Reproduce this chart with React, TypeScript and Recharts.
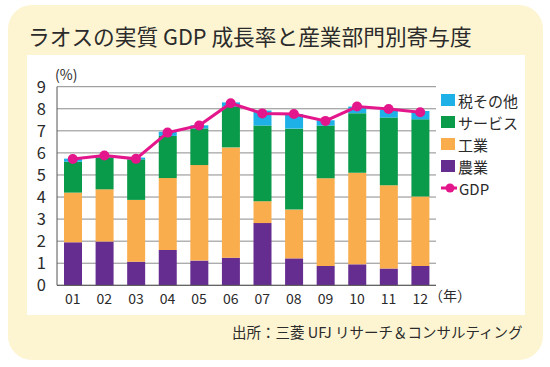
import { Bar, CartesianGrid, ComposedChart, Line, XAxis, YAxis } from 'recharts'

// Laos real GDP growth and sector contributions, 2001–2012 (%)
const years = ['01', '02', '03', '04', '05', '06', '07', '08', '09', '10', '11', '12']
const agriculture = [1.95, 1.98, 1.07, 1.6, 1.12, 1.25, 2.82, 1.22, 0.88, 0.95, 0.76, 0.88]
const industry = [2.25, 2.37, 2.8, 3.26, 4.33, 5.0, 0.99, 2.21, 3.97, 4.15, 3.77, 3.14]
const services = [1.4, 1.45, 1.84, 1.91, 1.66, 1.85, 3.43, 3.67, 2.39, 2.7, 3.07, 3.5]
const taxOther = [0.14, 0.07, 0.08, 0.19, 0.14, 0.19, 0.68, 0.66, 0.24, 0.3, 0.35, 0.38]
const gdp = [5.72, 5.88, 5.73, 6.92, 7.24, 8.25, 7.79, 7.76, 7.45, 8.1, 7.99, 7.84]
const yTicks = [0, 1, 2, 3, 4, 5, 6, 7, 8, 9]

const PURPLE = '#662d91'
const ORANGE = '#f9ad4c'
const GREEN = '#0a9b4a'
const BLUE = '#1eb1e7'
const MAGENTA = '#e4168b'
const TEXT = '#2b2b2b'
const FONT = '"Noto Sans CJK JP", "Noto Sans", sans-serif'

const data = years.map((year, i) => ({
  year,
  agriculture: agriculture[i],
  industry: industry[i],
  services: services[i],
  taxOther: taxOther[i],
  gdp: gdp[i],
}))

const legendItems = [
  { label: '税その他', color: BLUE, line: false },
  { label: 'サービス', color: GREEN, line: false },
  { label: '工業', color: ORANGE, line: false },
  { label: '農業', color: PURPLE, line: false },
  { label: 'GDP', color: MAGENTA, line: true },
]

function ChartLegend() {
  return (
    <div style={{ fontFamily: FONT, fontSize: 15, color: TEXT }}>
      {legendItems.map((item) => (
        <div key={item.label} style={{ display: 'flex', alignItems: 'center', height: 22 }}>
          {item.line ? (
            <svg width={16} height={12} style={{ marginRight: 2 }}>
              <line x1={0} y1={6} x2={16} y2={6} stroke={item.color} strokeWidth={3} />
              <circle cx={9} cy={6} r={4.5} fill={item.color} />
            </svg>
          ) : (
            <span
              style={{ width: 14, height: 12, background: item.color, marginRight: 3, display: 'inline-block' }}
            />
          )}
          <span>{item.label}</span>
        </div>
      ))}
    </div>
  )
}

export default function App() {
  return (
    <div style={{ position: 'absolute', left: 0, top: 0, width: 550, height: 367, background: '#ffffff', fontFamily: FONT }}>
      <div
        style={{
          position: 'absolute',
          left: 8,
          top: 5,
          width: 535,
          height: 355,
          borderRadius: 24,
          background: '#fdf5d2',
        }}
      />
      <div style={{ position: 'absolute', left: 27, top: 55, width: 498, height: 260, background: '#ffffff' }} />
      <div style={{ position: 'absolute', left: 28, top: 20, fontSize: 21.7, color: TEXT, whiteSpace: 'nowrap' }}>
        ラオスの実質 GDP 成長率と産業部門別寄与度
      </div>
      <div style={{ position: 'absolute', left: 55, top: 64, fontSize: 14, color: TEXT }}>(%)</div>
      <div style={{ position: 'absolute', left: 429, top: 285, fontSize: 14, color: TEXT }}>（年）</div>
      <div style={{ position: 'absolute', left: 232, top: 321, fontSize: 14.5, color: TEXT, whiteSpace: 'nowrap' }}>
        出所：三菱 UFJ リサーチ＆コンサルティング
      </div>
      <div style={{ position: 'absolute', left: 441, top: 89 }}>
        <ChartLegend />
      </div>
      <div style={{ position: 'absolute', left: 0, top: 0 }}>
        <ComposedChart
          width={550}
          height={367}
          data={data}
          margin={{ top: 86.7, right: 114, bottom: 51.7, left: 27 }}
        >
          <CartesianGrid vertical={false} stroke="#8c8c8c" strokeWidth={1} />
          <XAxis
            dataKey="year"
            height={30}
            tickLine={false}
            axisLine={{ stroke: '#555555' }}
            tick={{ fill: TEXT, fontSize: 14, fontFamily: FONT }}
            tickMargin={3}
            interval={0}
          />
          <YAxis
            width={30}
            domain={[0, 9]}
            ticks={yTicks}
            tickLine={false}
            tickSize={0}
            tickMargin={11}
            axisLine={{ stroke: '#555555' }}
            tick={{ fill: TEXT, fontSize: 16.5, fontFamily: FONT }}
            interval={0}
          />
          <Bar dataKey="agriculture" stackId="a" fill={PURPLE} barSize={18} isAnimationActive={false} />
          <Bar dataKey="industry" stackId="a" fill={ORANGE} barSize={18} isAnimationActive={false} />
          <Bar dataKey="services" stackId="a" fill={GREEN} barSize={18} isAnimationActive={false} />
          <Bar dataKey="taxOther" stackId="a" fill={BLUE} barSize={18} isAnimationActive={false} />
          <Line
            dataKey="gdp"
            stroke={MAGENTA}
            strokeWidth={3}
            dot={{ r: 5, fill: MAGENTA, stroke: MAGENTA, strokeWidth: 0 }}
            isAnimationActive={false}
          />
        </ComposedChart>
      </div>
    </div>
  )
}
